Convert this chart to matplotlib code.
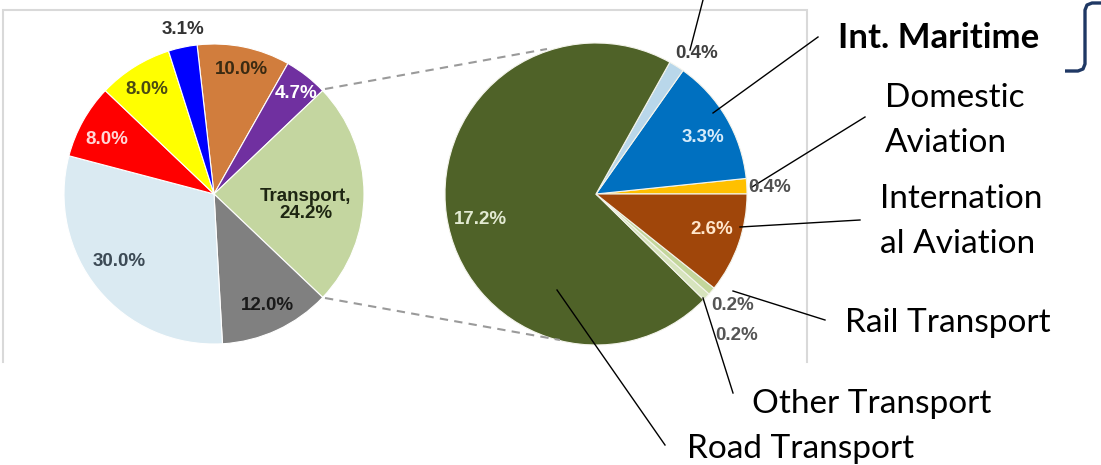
import matplotlib
matplotlib.use('Agg')
import matplotlib.pyplot as plt
import numpy as np

# canvas in pixels (y measured from the top, flipped when drawn)
W, H = 1101, 465

# left pie: all sectors, clockwise from the top
main_values = [10.0, 4.7, 24.2, 12.0, 30.0, 8.0, 8.0, 3.1]
main_colors = ['#D17D3D', '#7030A0', '#C4D6A0', '#808080',
               '#DAEAF2', '#FF0000', '#FFFF00', '#0000FF']
main_label_colors = ['#3A2A12', 'white', '#1E2612', '#1A1A1A',
                     '#3C4A55', '#FFD6D6', '#4A4A12', '#333333']
transport_index = 2

# right pie: breakdown of transport, counter-clockwise from 3 o'clock
sub_names = ['Domestic Aviation', 'Int. Maritime', 'Other', 'Road Transport',
             'Other Transport', 'Rail Transport', 'International Aviation']
sub_values = [0.4, 3.3, 0.4, 17.2, 0.2, 0.2, 2.6]
sub_colors = ['#FFC000', '#0070C0', '#B9D7EA', '#4F6228',
              '#D7E4BD', '#C3D69B', '#A0460A']
sub_label_colors = ['#505050', '#D6EBFA', '#404040', '#E2EAD2',
                    '#555555', '#555555', '#FFE6CC']


def Y(y):
    return H - y


fig = plt.figure(figsize=(W / 100, H / 100), dpi=100)
ax = fig.add_axes([0, 0, 1, 1])

# left pie
main_c = (214, 194)
start = 180 * main_values[transport_index] / 100 + 3.6 * sum(main_values[:transport_index])
wl, _ = ax.pie(main_values, colors=main_colors, startangle=start, counterclock=False,
               center=(main_c[0], Y(main_c[1])), radius=150,
               wedgeprops=dict(linewidth=0.8, edgecolor='white'))

# right pie
sub_c = (596, 194)
wr, _ = ax.pie(sub_values, colors=sub_colors, startangle=0, counterclock=True,
               center=(sub_c[0], Y(sub_c[1])), radius=151,
               wedgeprops=dict(linewidth=0.8, edgecolor='#F4F4EC'))

ax.set_xlim(0, W)
ax.set_ylim(0, H)
ax.set_aspect('auto')
ax.axis('off')

# chart frame (top, left, right)
ax.plot([3, 3, 807, 807], [Y(362), Y(10), Y(10), Y(362)], color='#D9D9D9', lw=1.5,
        solid_joinstyle='miter')

# dashed connectors
ax.plot([325, 547], [Y(89), Y(49)], ls=(0, (4, 3)), color='#9A9A9A', lw=1.5)
ax.plot([325, 560], [Y(298), Y(340)], ls=(0, (4, 3)), color='#9A9A9A', lw=1.5)

# left pie labels
pfont = dict(family='Liberation Sans', weight='bold', fontsize=13.5, ha='center', va='center')
main_pos = [(241, 70), (296, 93), (306, 205), (267, 305),
            (119, 262), (107, 139), (147, 90), (183, 30)]
for i, (v, p, c) in enumerate(zip(main_values, main_pos, main_label_colors)):
    txt = f'{v:.1f}%'
    if i == transport_index:
        txt = 'Transport,\n' + txt
    ax.text(p[0], Y(p[1]), txt, color=c, linespacing=1.0, **pfont)

# right pie labels
sub_pos = [(770, 188), (703, 138), (697, 54), (480, 220),
           (737, 335), (733, 305), (712, 230)]
for v, p, c in zip(sub_values, sub_pos, sub_label_colors):
    ax.text(p[0], Y(p[1]), f'{v:.1f}%', color=c, **pfont)

# leader lines
leaders = [((752, 187), (865, 117)), ((713, 113), (818, 37)), ((690, 50), (703, 0)),
           ((557, 290), (665, 445)), ((703, 298), (733, 393)), ((733, 291), (825, 320)),
           ((740, 227), (860, 220))]
for (x0, y0), (x1, y1) in leaders:
    ax.plot([x0, x1], [Y(y0), Y(y1)], color='black', lw=1.0)

# category names
lfont = dict(family=['Lato', 'DejaVu Sans'], ha='left', va='baseline', color='black')
names = [('Int. Maritime', 838, 48, 'bold', 25),
         ('Domestic', 885, 107, 'normal', 24), ('Aviation', 885, 152, 'normal', 24),
         ('Internation', 880, 208, 'normal', 24), ('al Aviation', 880, 253, 'normal', 24),
         ('Rail Transport', 845, 332, 'normal', 24),
         ('Other Transport', 752, 413, 'normal', 24),
         ('Road Transport', 687, 458, 'normal', 24)]
for t, x, y, w, s in names:
    ax.text(x, Y(y), t, fontweight=w, fontsize=s, **lfont)

# bracket at the top right
bx = [1101, 1092, 1087, 1085, 1085, 1083, 1078, 1065]
by = [3, 3, 5, 10, 64, 69, 71, 71]
ax.plot(bx, [Y(v) for v in by], color='#1F3864', lw=2.4, solid_capstyle='butt')

fig.savefig('out.png', dpi=100)
